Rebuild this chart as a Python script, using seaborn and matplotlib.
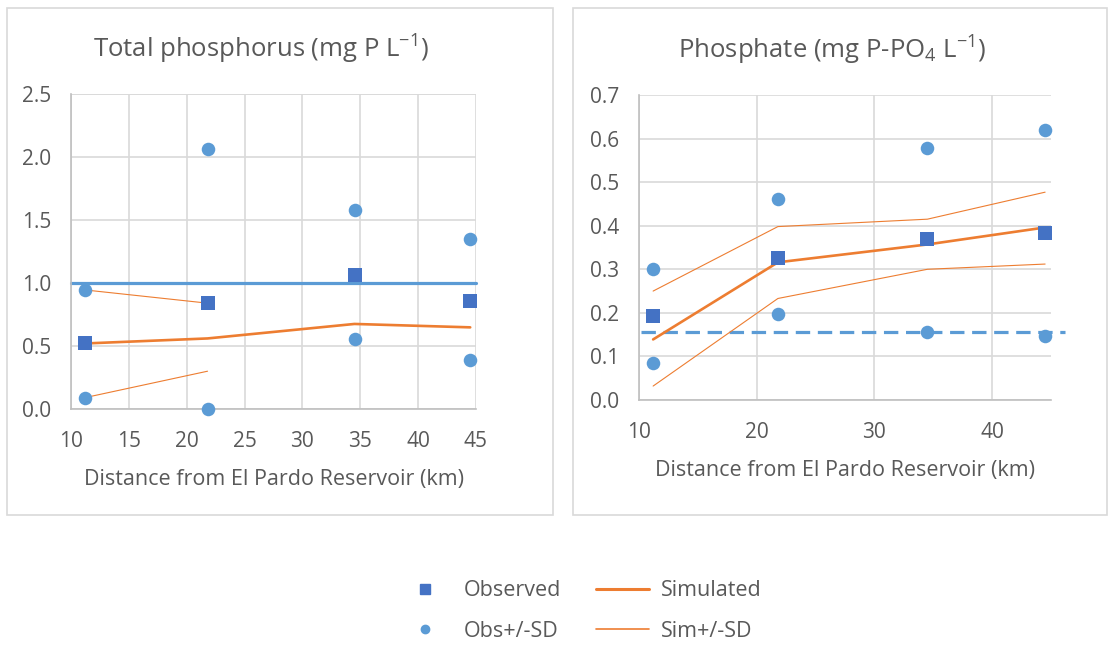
import numpy as np
import pandas as pd
import matplotlib
matplotlib.use("Agg")
import matplotlib.pyplot as plt
from matplotlib.lines import Line2D
from matplotlib.patches import Rectangle
import seaborn as sns

# Sampling stations (distance downstream, km)
distance = [11.2, 21.8, 34.5, 44.5]

# Total phosphorus (mg P/L)
tp_observed = [0.52, 0.84, 1.065, 0.86]
tp_obs_plus_sd = [0.945, 2.06, 1.58, 1.35]
tp_obs_minus_sd = [0.09, 0.0, 0.555, 0.385]
tp_simulated = [0.52, 0.56, 0.675, 0.648]
tp_sim_plus_sd = [0.945, 0.84]
tp_sim_minus_sd = [0.09, 0.30]
tp_limit = 1.0

# Phosphate (mg P-PO4/L)
po4_observed = [0.193, 0.327, 0.369, 0.384]
po4_obs_plus_sd = [0.301, 0.461, 0.578, 0.619]
po4_obs_minus_sd = [0.084, 0.197, 0.157, 0.148]
po4_simulated = [0.139, 0.316, 0.357, 0.396]
po4_sim_plus_sd = [0.250, 0.398, 0.415, 0.477]
po4_sim_minus_sd = [0.032, 0.233, 0.300, 0.312]
po4_limit = 0.157

sns.set_style("white")
plt.rcParams["font.family"] = ["Open Sans", "DejaVu Sans"]

SQ_BLUE = "#4472C4"
DOT_BLUE = "#5B9BD5"
ORANGE = "#ED7D31"
GRID = "#D9D9D9"
TEXT = "#595959"

fig = plt.figure(figsize=(11.10, 6.46), dpi=100)
W, H = 1110, 646


def px_axes(x0, y0, x1, y1):
    return fig.add_axes([x0 / W, 1 - y1 / H, (x1 - x0) / W, (y1 - y0) / H])


# chart-area frames
for (x0, y0, x1, y1) in [(7, 8, 553, 515), (573, 8, 1107, 515)]:
    fig.patches.append(Rectangle((x0 / W, 1 - y1 / H), (x1 - x0) / W, (y1 - y0) / H,
                                 transform=fig.transFigure, fill=False,
                                 edgecolor=GRID, linewidth=1.2))

ax1 = px_axes(71, 94, 476, 409)
ax2 = px_axes(639, 95, 1051, 400)


def draw_panel(ax, obs, obs_hi, obs_lo, sim, sim_hi, sim_lo):
    n_sd = len(sim_hi)
    sns.lineplot(x=distance, y=sim, ax=ax, color=ORANGE, linewidth=1.9, zorder=3)
    sns.lineplot(x=distance[:n_sd], y=sim_hi, ax=ax, color=ORANGE, linewidth=0.8, zorder=3)
    sns.lineplot(x=distance[:n_sd], y=sim_lo, ax=ax, color=ORANGE, linewidth=0.8, zorder=3)
    sns.scatterplot(x=distance * 2, y=list(obs_hi) + list(obs_lo), ax=ax, color=DOT_BLUE,
                    marker="o", s=95, linewidth=0, zorder=4, clip_on=False)
    sns.scatterplot(x=distance, y=obs, ax=ax, color=SQ_BLUE, marker="s", s=95,
                    linewidth=0, zorder=5, clip_on=False)


draw_panel(ax1, tp_observed, tp_obs_plus_sd, tp_obs_minus_sd,
           tp_simulated, tp_sim_plus_sd, tp_sim_minus_sd)
ax1.plot([10, 45], [tp_limit, tp_limit], color=DOT_BLUE, linewidth=2.3, zorder=2,
         clip_on=False)
ax1.set_xlim(10, 45)
ax1.set_ylim(0, 2.5)
ax1.set_xticks(np.arange(10, 46, 5))
ax1.set_yticks(np.arange(0, 2.51, 0.5))
ax1.yaxis.set_major_formatter(matplotlib.ticker.FormatStrFormatter("%.1f"))

draw_panel(ax2, po4_observed, po4_obs_plus_sd, po4_obs_minus_sd,
           po4_simulated, po4_sim_plus_sd, po4_sim_minus_sd)
ax2.plot([10.2, 46.2], [po4_limit, po4_limit], color=DOT_BLUE, linewidth=2.3,
         dashes=(4.5, 2.4), zorder=2, clip_on=False)
ax2.set_xlim(10, 45)
ax2.set_ylim(0, 0.7)
ax2.set_xticks([10, 20, 30, 40])
ax2.set_yticks(np.arange(0, 0.71, 0.1))
ax2.yaxis.set_major_formatter(matplotlib.ticker.FormatStrFormatter("%.1f"))

for ax in (ax1, ax2):
    ax.grid(True, color=GRID, linewidth=1.2, zorder=0)
    ax.set_axisbelow(True)
    for side in ("top", "right"):
        ax.spines[side].set_visible(False)
    for side in ("left", "bottom"):
        ax.spines[side].set_color("#BFBFBF")
        ax.spines[side].set_linewidth(1.2)
    ax.tick_params(axis="both", length=0, labelsize=15, labelcolor=TEXT)
    ax.tick_params(axis="y", pad=14)
    ax.tick_params(axis="x", pad=16)
    ax.set_xlabel("Distance from El Pardo Reservoir (km)", fontsize=15.5,
                  color=TEXT, labelpad=12)
    ax.set_ylabel("")

ax1.axhline(2.5, color=GRID, linewidth=1.2, zorder=0)

title_kw = dict(fontsize=18.5, color=TEXT, pad=26, x=0.468)
ax1.set_title(r"Total phosphorus (mg P L$\mathregular{^{-1}}$)", **title_kw)
ax2.set_title(r"Phosphate (mg P-PO$\mathregular{_4}$ L$\mathregular{^{-1}}$)", **title_kw)

handles = [
    Line2D([], [], color=SQ_BLUE, marker="s", linestyle="none", markersize=7),
    Line2D([], [], color=DOT_BLUE, marker="o", linestyle="none", markersize=6),
    Line2D([], [], color=ORANGE, linewidth=2.2),
    Line2D([], [], color=ORANGE, linewidth=1.2),
]
labels = ["Observed", "Obs+/-SD", "Simulated", "Sim+/-SD"]
leg = fig.legend(handles, labels, loc="center", bbox_to_anchor=(580 / W, 1 - 611 / H),
                 ncol=2, frameon=False, fontsize=15.5, handlelength=2.5,
                 columnspacing=1.6, labelspacing=0.9, handletextpad=0.55)
for t in leg.get_texts():
    t.set_color(TEXT)

fig.savefig("out.png", dpi=100)
